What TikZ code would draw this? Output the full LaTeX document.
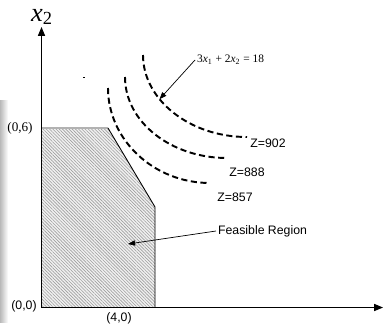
\documentclass[tikz,border=0pt]{standalone}
\usepackage{fontspec}
\setmainfont{Liberation Serif}
\setsansfont{Liberation Sans}
\usetikzlibrary{positioning, arrows.meta, patterns.meta}

\begin{document}
\begin{tikzpicture}[
    x=0.02cm, y=-0.02cm,
    axis/.style={-{Triangle[length=5pt, width=4pt]}, line width=0.6pt},
    level/.style={dash pattern=on 3.5pt off 2pt, line width=1.1pt},
    feas/.style={pattern={Lines[angle=-45, distance=1.3pt, line width=0.35pt]}, pattern color=gray!75},
    lab/.style={font=\sffamily\fontsize{7}{8}\selectfont, inner sep=1pt},
    tick/.style={font=\fontsize{7.5}{8}\selectfont, inner sep=0pt},
    arr/.style={-{Triangle[length=4pt, width=3pt]}, line width=0.4pt},
]
\useasboundingbox (0,0) rectangle (384,325);

% page shadow on the left
\shade [left color=gray!55, right color=white] (0,100) rectangle (8,322);

\coordinate (origin) at (41.5,307.5);
\coordinate (ytop) at (41.5,27);
\coordinate (xend) at (383,307.5);
\coordinate (ra) at (41.5,128);
\coordinate (rb) at (108,128);
\coordinate (rc) at (155,207);
\coordinate (rd) at (155,307.5);
\coordinate (inside) at (128,244);

% feasible region
\fill [gray!12] (origin) -- (ra) -- (rb) -- (rc) -- (rd) -- cycle;
\fill [feas] (origin) -- (ra) -- (rb) -- (rc) -- (rd) -- cycle;
\draw [gray!60, line width=0.8pt] (ra) -- (rb);
\draw [line width=0.5pt] (rb) -- (rc) -- (rd);

% axes
\draw [axis] (origin) -- (ytop);
\draw [axis] (origin) -- (xend);

% objective lines
\draw [level] (108,88) .. controls (108,140) and (154,183) .. (210,183);
\draw [level] (125,77) .. controls (125,122) and (171,158) .. (227,158);
\draw [level] (143,55) .. controls (143,100) and (190,137) .. (247,137)
    coordinate [pos=0.36] (hit);

% labels
\node [font=\fontsize{15}{16}\selectfont, inner sep=0pt] (x2) at (42,17) {\textit{x}\textsubscript{2}};
\node [tick] (p06) at (20,128) {(0,6)};
\node [lab] (p00) at (24,306) {(0,0)};
\node [lab] (p40) at (119,318) {(4,0)};
\node [lab] (z902) at (268,143) {Z=902};
\node [lab] (z888) at (247,172) {Z=888};
\node [lab] (z857) at (235,197) {Z=857};
\node [lab, anchor=west] (feaslab) at (216,231) {Feasible Region};
\node [font=\fontsize{6.5}{7}\selectfont, inner sep=1pt, anchor=west] (eqn) at (195,60)
    {3\textit{x}\textsubscript{1} + 2\textit{x}\textsubscript{2} = 18};

\draw [arr] (eqn.west) -- (hit);
\draw [arr] (feaslab.west) -- (inside);

\fill (83,76.5) rectangle (85,78);

\end{tikzpicture}
\end{document}
